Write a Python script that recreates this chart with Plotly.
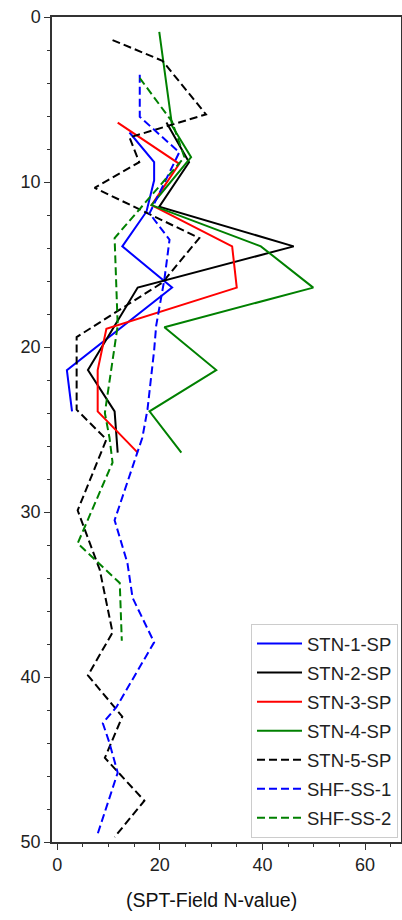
import plotly.graph_objects as go

# ---------------- data (N-value vs depth) ----------------
series_names = ["STN-1-SP", "STN-2-SP", "STN-3-SP", "STN-4-SP",
                "STN-5-SP", "SHF-SS-1", "SHF-SS-2"]

stn1_n = [14.1, 18.9, 18.9, 17.4, 12.7, 22.4, 1.9, 2.9]
stn1_depth = [7.0, 8.8, 9.9, 11.8, 13.9, 16.4, 21.4, 23.9]

stn2_n = [21.3, 25.7, 19.9, 46.1, 15.7, 6.0, 11.2, 11.8]
stn2_depth = [6.4, 8.8, 11.5, 13.9, 16.4, 21.4, 23.9, 26.4]

stn3_n = [11.8, 23.8, 18.4, 34.1, 35.0, 9.6, 7.9, 7.9, 15.7]
stn3_depth = [6.4, 8.9, 11.4, 13.9, 16.4, 18.9, 21.4, 23.9, 26.4]

stn4_n = [19.9, 22.4, 26.1, 18.4, 39.7, 49.9, 20.9, 31.0, 18.0, 24.2]
stn4_depth = [0.9, 6.6, 8.5, 11.4, 13.9, 16.4, 18.8, 21.4, 23.9, 26.4]

stn5_n = [10.8, 20.5, 29.0, 14.1, 16.0, 7.3, 27.7, 20.5, 3.8, 3.8,
          9.6, 4.0, 8.3, 10.8, 6.0, 12.7, 9.3, 17.0, 11.2]
stn5_depth = [1.4, 2.65, 5.9, 7.3, 8.8, 10.35, 13.4, 16.1, 19.4, 23.8,
              25.6, 29.9, 33.5, 37.3, 39.9, 42.4, 44.9, 47.5, 49.7]

shf1_n = [16.1, 16.1, 23.8, 18.0, 21.9, 20.9, 19.3, 18.9, 17.6, 16.6,
          11.2, 13.7, 14.7, 18.9, 11.6, 8.9, 10.2, 11.8, 7.7]
shf1_depth = [3.5, 6.05, 8.2, 11.9, 13.5, 15.9, 18.7, 20.2, 23.8, 25.5,
              30.5, 33.1, 35.2, 37.9, 41.8, 42.8, 44.0, 45.8, 49.7]

shf2_n = [16.1, 22.4, 24.8, 11.2, 11.8, 9.3, 10.2, 10.8, 4.0, 12.2, 12.6]
shf2_depth = [3.7, 6.35, 8.5, 13.4, 18.7, 24.0, 25.5, 27.0, 31.9, 34.3, 37.8]

x_ticks = [0, 20, 40, 60]
y_ticks = [0, 10, 20, 30, 40, 50]
x_title = "(SPT-Field N-value)"

# ---------------- styles ----------------
series_values = [(stn1_n, stn1_depth), (stn2_n, stn2_depth), (stn3_n, stn3_depth),
                 (stn4_n, stn4_depth), (stn5_n, stn5_depth), (shf1_n, shf1_depth),
                 (shf2_n, shf2_depth)]
colors = ["#0000ff", "#000000", "#ff0000", "#008000", "#000000", "#0000ff", "#008000"]
dashes = ["solid", "solid", "solid", "solid", "8px,4px", "8px,4px", "8px,4px"]

FONT = "Liberation Sans, Arial, sans-serif"

fig = go.Figure()
for i, (name, (xs, ys)) in enumerate(zip(series_names, series_values)):
    fig.add_trace(go.Scatter(
        x=xs, y=ys, mode="lines", name=name, legendgroup=name,
        line=dict(color=colors[i], width=2, dash=dashes[i]),
    ))

W, H = 402, 920
L, R, T, B = 52, 1, 17, 78
pw = W - L - R
ph = H - T - B

fig.update_layout(
    width=W, height=H,
    margin=dict(l=L, r=R, t=T, b=B, pad=0),
    paper_bgcolor="white", plot_bgcolor="white",
    font=dict(family=FONT, size=18, color="#222222"),
    showlegend=True,
    legend=dict(
        x=(398 - L) / pw, xanchor="right",
        y=(H - B - 838) / ph, yanchor="bottom",
        bgcolor="rgba(255,255,255,0.85)",
        bordercolor="#cccccc", borderwidth=1,
        font=dict(family=FONT, size=18.5, color="#222222"),
        tracegroupgap=2, itemwidth=45,
    ),
    xaxis=dict(
        range=[-1, 67], tickvals=x_ticks, ticks="outside", ticklen=6, tickwidth=1.2,
        tickcolor="#333333", automargin=False,
        minor=dict(dtick=5, tick0=0, ticks="outside", ticklen=3, tickcolor="#333333"),
        showline=True, linecolor="#333333", linewidth=1.5, mirror=True,
        showgrid=False, zeroline=False,
        tickfont=dict(family=FONT, size=18, color="#222222"),
    ),
    yaxis=dict(
        range=[50, 0], tickvals=y_ticks, ticks="outside", ticklen=6, tickwidth=1.2,
        tickcolor="#333333", automargin=False,
        minor=dict(dtick=2, tick0=0, ticks="outside", ticklen=3, tickcolor="#333333"),
        showline=True, linecolor="#333333", linewidth=1.5, mirror=True,
        showgrid=False, zeroline=False,
        tickfont=dict(family=FONT, size=18, color="#222222"),
    ),
    annotations=[dict(
        text=x_title, xref="paper", yref="paper",
        x=(211 - L) / pw, y=-(900 - (H - B)) / ph,
        xanchor="center", yanchor="middle", showarrow=False,
        font=dict(family=FONT, size=19.5, color="#111111"),
    )],
)

fig.write_html(
    "out.html",
    config={"displayModeBar": False},
    post_script="document.body.style.margin='0';document.body.style.overflow='hidden';",
)
